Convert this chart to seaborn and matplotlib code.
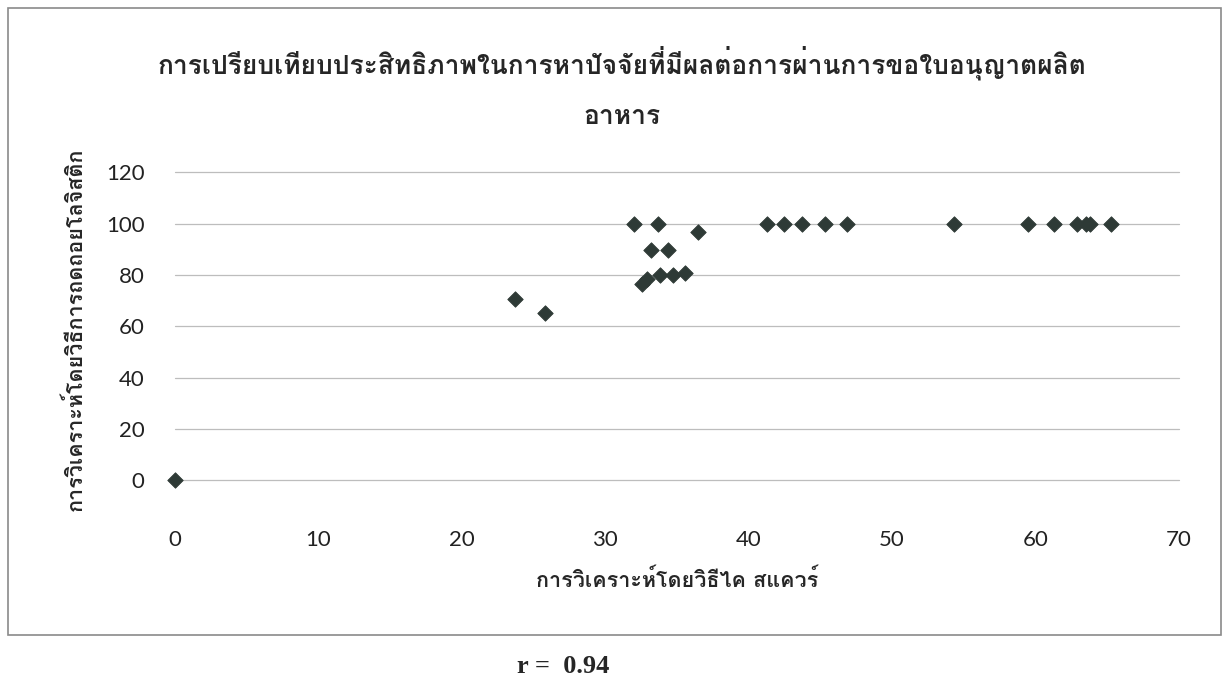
import matplotlib
matplotlib.use("Agg")
import matplotlib.pyplot as plt
from matplotlib import font_manager as fm
from matplotlib.ft2font import FT2Font
from matplotlib.patches import Rectangle
import seaborn as sns
import pandas as pd

# Scores from the two methods for each factor
chi_square = [0, 23.7, 25.8, 32.0, 33.7, 36.5, 33.2, 34.4, 32.6, 32.9, 33.8, 34.7, 35.6,
              41.3, 42.5, 43.7, 45.3, 46.9, 54.3, 59.5, 61.3, 62.9, 63.5, 63.8, 65.3]
logistic = [0, 70.5, 65, 100, 100, 96.6, 89.6, 89.6, 76.5, 78.5, 79.9, 79.9, 80.6,
            100, 100, 100, 100, 100, 100, 100, 100, 100, 100, 100, 100]

x_ticks = [0, 10, 20, 30, 40, 50, 60, 70]
y_ticks = [0, 20, 40, 60, 80, 100, 120]

title = "การเปรียบเทียบประสิทธิภาพในการหาปัจจัยที่มีผลต่อการผ่านการขอใบอนุญาตผลิต\nอาหาร"
x_label = "การวิเคราะห์โดยวิธีไค สแควร์"
y_label = "การวิเคราะห์โดยวิธีการถดถอยโลจิสติก"
r_text = "r =  0.94"


def fonts_with(char):
    names = []
    for f in fm.fontManager.ttflist:
        try:
            cmap = FT2Font(f.fname).get_charmap()
        except Exception:
            continue
        if ord(char) in cmap and f.name not in names:
            names.append(f.name)
    return names


thai = fonts_with("ก")
thai_family = thai + ["DejaVu Sans"] if thai else ["DejaVu Sans"]

sns.set_theme(style="white")
plt.rcParams["font.family"] = ["Lato", "DejaVu Sans"]

df = pd.DataFrame({"chi": chi_square, "logit": logistic})

fig = plt.figure(figsize=(12.24, 6.81), dpi=100)
ax = fig.add_axes([0.143, 0.295, 0.820, 0.452])

# horizontal gridlines, including the one on the zero line
for yv in y_ticks:
    ax.axhline(yv, color="#bdbdbd", linewidth=0.9, zorder=1, clip_on=False)

sns.scatterplot(data=df, x="chi", y="logit", ax=ax, marker="D", s=62,
                color="#2e3a36", edgecolor="#2e3a36", linewidth=0.6,
                clip_on=False, zorder=3)

ax.set_xlim(0, 70)
ax.set_ylim(0, 120)
ax.set_xticks(x_ticks)
ax.set_yticks(y_ticks)
ax.tick_params(axis="x", length=0, pad=36, labelsize=16, colors="#222222")
ax.tick_params(axis="y", length=0, pad=22, labelsize=16, colors="#222222")
for s in ax.spines.values():
    s.set_visible(False)
ax.grid(False)

ax.set_xlabel("")
ax.set_ylabel("")

fig.text(0.508, 0.872, title, ha="center", va="center", fontsize=19,
         fontweight="bold", family=thai_family, linespacing=2.3)
fig.text(0.553, 0.148, x_label, ha="center", va="center", fontsize=15.5,
         fontweight="bold", family=thai_family)
fig.text(0.061, 0.517, y_label, ha="center", va="center", rotation=90,
         fontsize=15.5, fontweight="bold", family=thai_family)
fig.text(0.460, 0.022, r_text, ha="center", va="center", fontsize=19,
         fontweight="bold", family=["Liberation Serif", "DejaVu Serif"])

fig.patches.append(Rectangle((0.0065, 0.0675), 0.991, 0.9205,
                             transform=fig.transFigure, fill=False,
                             edgecolor="#8a8a8a", linewidth=1.2))

fig.savefig("out.png", dpi=100)
